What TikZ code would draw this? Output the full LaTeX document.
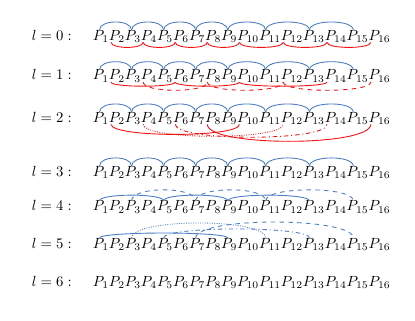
\documentclass[tikz,border=0pt]{standalone}
\usetikzlibrary{positioning}
\definecolor{arcblue}{HTML}{4A7DC4}
\definecolor{arcred}{HTML}{F51010}
\tikzset{pnode/.style={inner sep=0pt, outer sep=0pt}, lvl/.style={anchor=base east, inner sep=0pt}, toparc/.style={draw=arcblue, line width=.6pt}, botarc/.style={draw=arcred, line width=.6pt}}
\begin{document}
\begin{tikzpicture}
\useasboundingbox (0,0) rectangle (9.92,-7.67);
\foreach \r/\y in {0/-0.96,1/-1.91,2/-2.92,3/-4.21,4/-5.04,5/-5.93,6/-6.84}{
  \node[lvl] (l\r) at (1.72,\y) {$l=\r:$};
  \node[pnode, anchor=base west] (P\r-1) at (2.22,\y) {$P_1$};
  \foreach \k [remember=\k as \j (initially 1)] in {2,...,16}
    \node[pnode, base right=0pt of P\r-\j] (P\r-\k) {$P_{\k}$};
}
\foreach \r in {0,1,2,3}
  \foreach \a/\b in {1/3,3/5,5/7,7/9,9/11,11/13,13/15}
    \draw[toparc] ([xshift=4.5pt]P\r-\a.north west) .. controls +(0,.26) and +(0,.26) .. ([xshift=4.5pt]P\r-\b.north west);
\foreach \a/\b in {2/4,4/6,6/8,8/10,10/12,12/14,14/16}
  \draw[botarc] ([xshift=1.5pt]P0-\a.south west) .. controls +(0,-.16) and +(0,-.16) .. ([xshift=1.5pt]P0-\b.south west);
\foreach \a/\b/\h/\s in {2/6/.13/solid,6/10/.13/solid,10/14/.13/solid,4/8/.26/dashed,8/12/.26/dashed,12/16/.26/dashed}
  \draw[botarc,\s] ([xshift=1.5pt]P1-\a.south west) .. controls +(0,-\h) and +(0,-\h) .. ([xshift=1.5pt]P1-\b.south west);
\foreach \a/\b/\h/\s in {2/10/.32/solid,4/12/.38/densely dotted,6/14/.41/dash dot,8/16/.54/solid}
  \draw[botarc,\s] ([xshift=1.5pt]P2-\a.south west) .. controls +(0,-\h) and +(0,-\h) .. ([xshift=1.5pt]P2-\b.south west);
\foreach \a/\b/\h/\s in {1/5/.18/solid,5/9/.18/solid,9/13/.18/solid,3/7/.35/dashed,7/11/.35/dashed,11/15/.35/dashed}
  \draw[toparc,\s] ([xshift=4.5pt]P4-\a.north west) .. controls +(0,\h) and +(0,\h) .. ([xshift=4.5pt]P4-\b.north west);
\foreach \a/\b/\h/\s in {1/9/.16/solid,5/13/.29/dash dot,3/11/.48/densely dotted,7/15/.51/dashed}
  \draw[toparc,\s] ([xshift=4.5pt]P5-\a.north west) .. controls +(0,\h) and +(0,\h) .. ([xshift=4.5pt]P5-\b.north west);
\end{tikzpicture}
\end{document}
